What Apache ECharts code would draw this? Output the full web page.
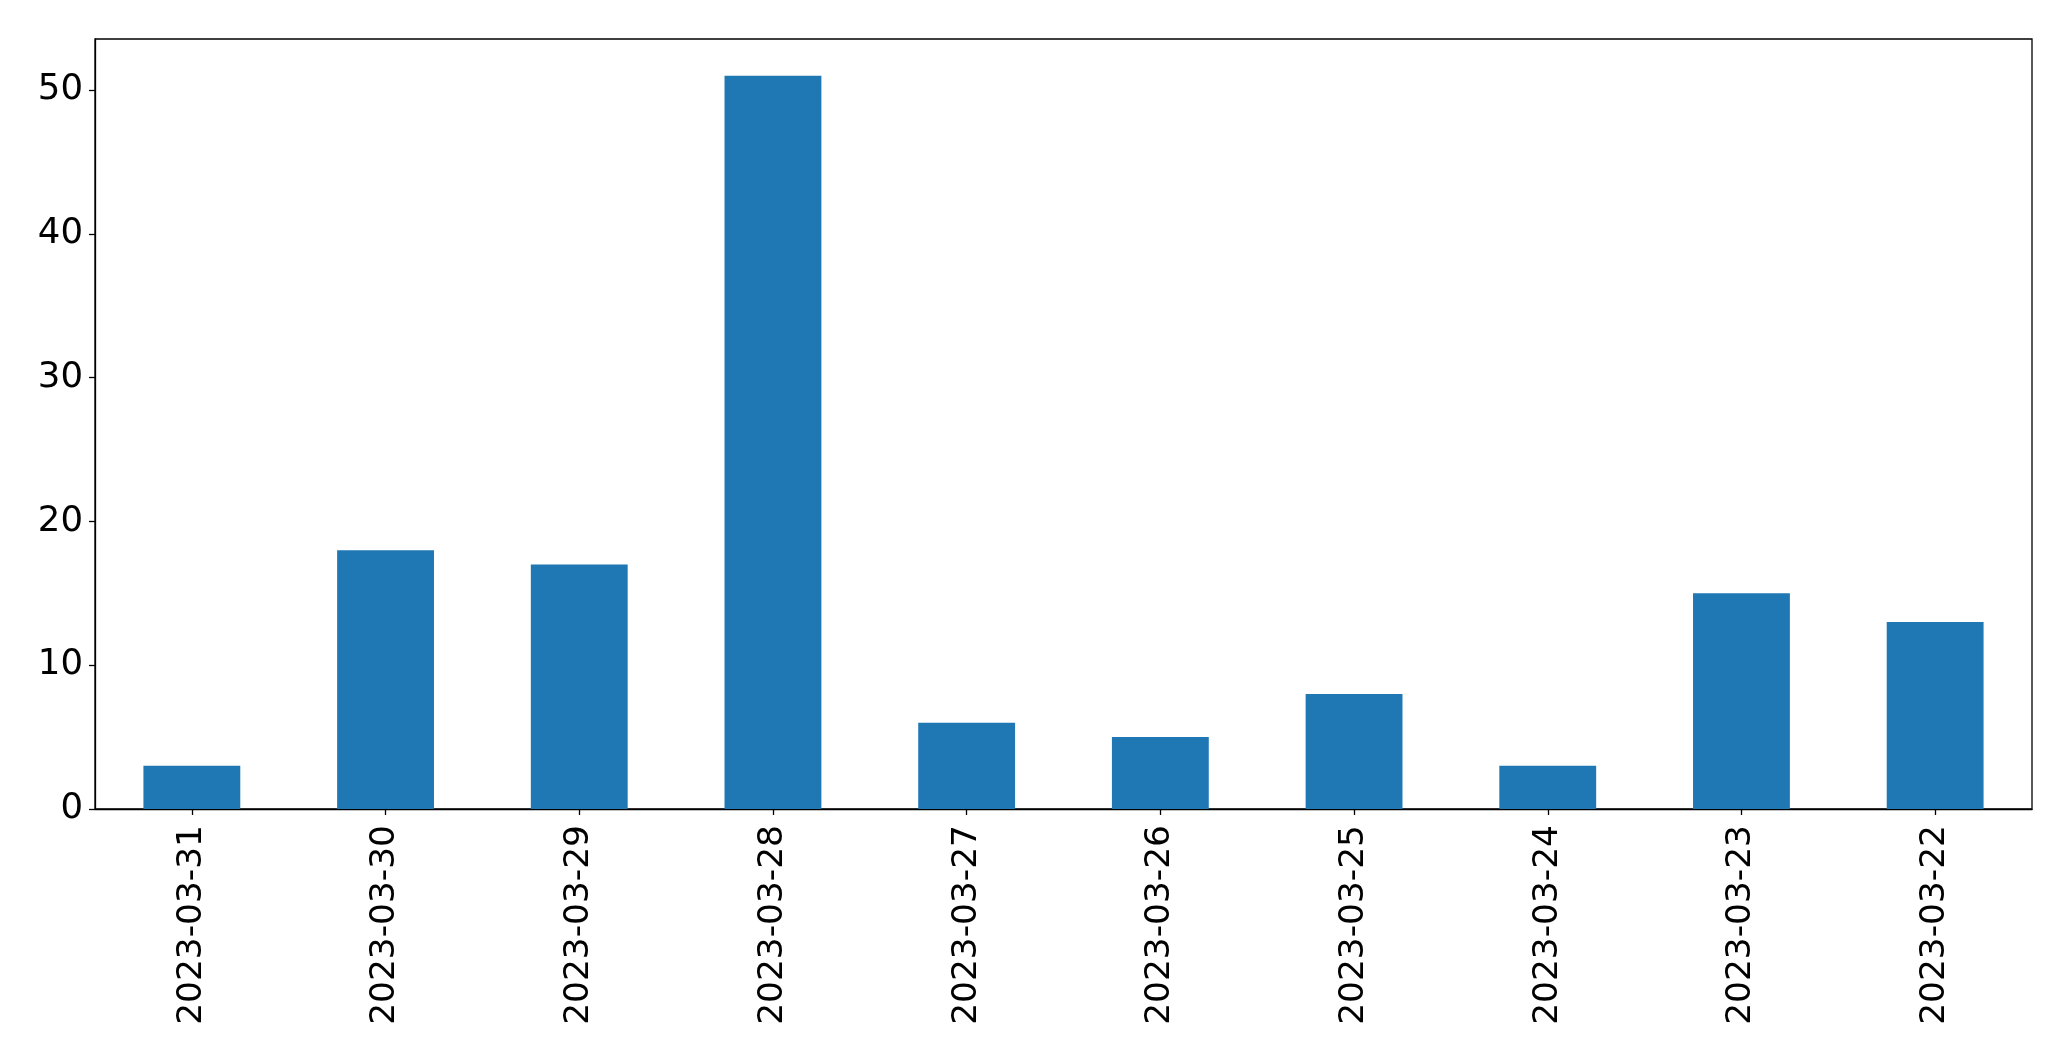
<!DOCTYPE html>
<html>
<head>
<meta charset="utf-8">
<script src="https://cdn.jsdelivr.net/npm/echarts@6/dist/echarts.min.js"></script>
<style>
html,body{margin:0;padding:0;background:#fff;}
#chart{width:2071px;height:1061px;}
</style>
</head>
<body>
<div id="chart"></div>
<script>
const categories = ["2023-03-31","2023-03-30","2023-03-29","2023-03-28","2023-03-27","2023-03-26","2023-03-25","2023-03-24","2023-03-23","2023-03-22"];
const values = [3, 18, 17, 51, 6, 5, 8, 3, 15, 13];
const yTicks = [0, 10, 20, 30, 40, 50];

const chart = echarts.init(document.getElementById('chart'), null, {renderer: 'canvas'});
const font = 'DejaVu Sans';
chart.setOption({
  animation: false,
  backgroundColor: '#ffffff',
  grid: {left: 95, right: 39, top: 39, bottom: 252, show: true, borderColor: '#000', borderWidth: 1.3, backgroundColor: 'transparent'},
  xAxis: {
    type: 'category',
    data: categories,
    boundaryGap: true,
    axisLine: {show: true, lineStyle: {color: '#000', width: 1.3}},
    axisTick: {show: true, alignWithLabel: true, length: 6, lineStyle: {color: '#000', width: 1.3}},
    axisLabel: {rotate: 90, fontSize: 34.4, fontFamily: font, color: '#000', margin: 16, interval: 0},
    splitLine: {show: false}
  },
  yAxis: {
    type: 'value',
    min: 0,
    max: 53.55,
    interval: 10,
    axisLine: {show: true, lineStyle: {color: '#000', width: 1.3}},
    axisTick: {show: true, length: 6, lineStyle: {color: '#000', width: 1.3}, customValues: yTicks},
    axisLabel: {fontSize: 35.5, fontFamily: font, color: '#000', margin: 12, customValues: yTicks},
    splitLine: {show: false}
  },
  series: [{
    type: 'bar',
    data: values,
    barCategoryGap: '50%',
    itemStyle: {color: '#1f77b4'}
  }]
});
</script>
</body>
</html>
